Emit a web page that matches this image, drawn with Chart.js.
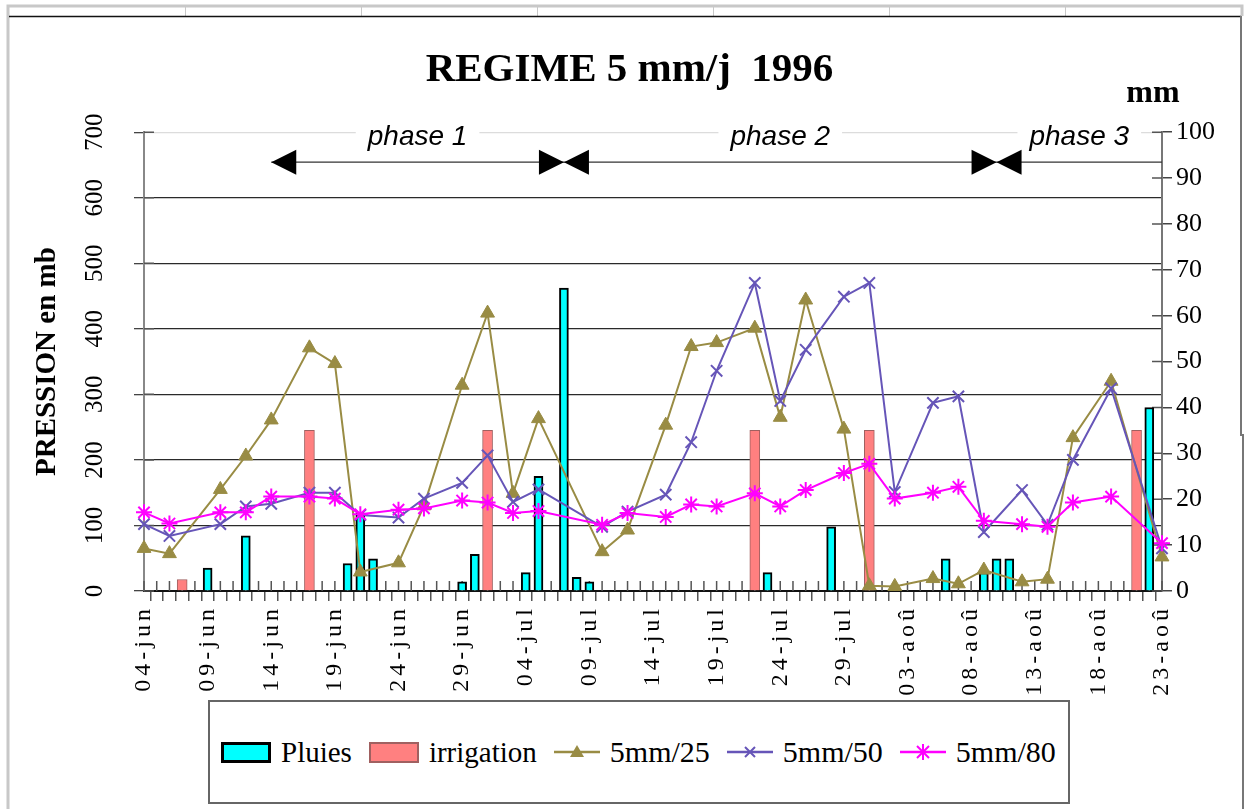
<!DOCTYPE html>
<html lang="fr">
<head>
<meta charset="utf-8">
<title>REGIME 5 mm/j 1996</title>
<script src="https://cdn.jsdelivr.net/npm/chart.js@4.4.1/dist/chart.umd.min.js"></script>
<style>
    html, body { margin: 0; padding: 0; background: #fff; }
    #wrap { position: relative; width: 1245px; height: 809px; overflow: hidden; }
    #graphe { position: absolute; left: 0; top: 0; }
    #legende {
        position: absolute; left: 208px; top: 700px; width: 862px; height: 104px;
        border: 2px solid #666; box-sizing: border-box; background: #fff;
        display: flex; align-items: center; padding-left: 11px;
        font: 29px "Liberation Serif", "Times New Roman", serif; color: #000;
    }
    .item { display: flex; align-items: center; margin-right: 17px; white-space: nowrap; }
    .item .txt { margin-left: 10px; }
    .boite { width: 50px; height: 21px; box-sizing: border-box; }
</style>
</head>
<body>
<div id="wrap">
    <canvas id="graphe" width="1245" height="809"></canvas>
    <div id="legende"></div>
</div>
<script>
// ============================================
// Données
// ============================================

// Catégories : un tick par jour, du 04-jun au 23-aoû
const MOIS = [['jun', 4, 30], ['jul', 1, 31], ['aoû', 1, 23]];
const jours = [];
MOIS.forEach(([m, debut, fin]) => {
    for (let d = debut; d <= fin; d++) jours.push(String(d).padStart(2, '0') + '-' + m);
});

// Pression (mb) - jours de mesure
const datesMesure = [
    '04-jun', '06-jun', '10-jun', '12-jun', '14-jun', '17-jun', '19-jun', '21-jun', '24-jun', '26-jun', '29-jun',
    '01-jul', '03-jul', '05-jul', '10-jul', '12-jul', '15-jul', '17-jul', '19-jul', '22-jul', '24-jul', '26-jul', '29-jul', '31-jul',
    '02-aoû', '05-aoû', '07-aoû', '09-aoû', '12-aoû', '14-aoû', '16-aoû', '19-aoû', '23-aoû'
];
const pression25 = [65, 57, 155, 206, 261, 371, 347, 29, 43, 130, 314, 424, 149, 263, 60, 93, 253, 373, 379, 401, 265, 444, 247, 8, 7, 19, 11, 32, 14, 18, 234, 320, 52];
const pression50 = [102, 84, 102, 129, 133, 150, 150, 116, 112, 141, 165, 207, 136, 155, 98, 121, 147, 227, 336, 470, 290, 368, 449, 470, 151, 287, 297, 90, 154, 101, 200, 309, 65];
const pression80 = [120, 103, 120, 120, 144, 144, 141, 117, 124, 126, 138, 135, 119, 122, 101, 119, 113, 132, 129, 149, 129, 154, 180, 194, 141, 150, 159, 107, 102, 98, 135, 144, 73];

// Apports d'eau (mm)
const datesPluie = ['09-jun', '12-jun', '20-jun', '21-jun', '22-jun', '29-jun', '30-jun', '04-jul', '05-jul', '07-jul', '08-jul', '09-jul',
    '23-jul', '28-jul', '06-aoû', '09-aoû', '10-aoû', '11-aoû', '22-aoû'];
const pluies = [5, 12, 6, 17, 7, 2, 8, 4, 25, 66, 3, 2, 4, 14, 7, 4, 7, 7, 40];
const datesIrrigation = ['07-jun', '17-jun', '01-jul', '22-jul', '31-jul', '21-aoû'];
const irrigation = [2.5, 35, 35, 35, 35, 35];

// Phases de l'essai
const phases = [
    { label: 'phase 1', debut: '14-jun', fin: '07-jul' },
    { label: 'phase 2', debut: '07-jul', fin: '10-aoû' },
    { label: 'phase 3', debut: '10-aoû', fin: null }
];

const serie = (dates, valeurs) => dates.map((d, i) => ({ x: d, y: valeurs[i] }));

const SERIF = '"Liberation Serif", "Times New Roman", serif';
const COULEURS = {
    pluie: '#00ffff',
    irrigation: '#ff8080',
    p25: '#998c44',
    p50: '#6655b8',
    p80: '#ff00ff'
};

// ============================================
// Plugins de décor
// ============================================

// Cadre de la feuille (façon tableur)
const cadre = {
    id: 'cadre',
    beforeDraw(chart) {
        const c = chart.ctx;
        c.save();
        c.fillStyle = '#fff';
        c.fillRect(0, 0, chart.width, chart.height);
        c.strokeStyle = '#c8c8c8';
        c.lineWidth = 3;
        c.beginPath();
        c.moveTo(8, chart.height); c.lineTo(8, 6); c.lineTo(1242, 6); c.lineTo(1242, 16);
        c.stroke();
        c.lineWidth = 1;
        [185, 361, 537, 713, 889, 1065].forEach(x => {
            c.beginPath(); c.moveTo(x + 0.5, 6); c.lineTo(x + 0.5, 16); c.stroke();
        });
        c.strokeStyle = '#111';
        c.lineWidth = 1.5;
        c.beginPath(); c.moveTo(9, 16.5); c.lineTo(1241, 16.5); c.stroke();
        c.strokeStyle = '#777';
        c.lineWidth = 2;
        c.beginPath(); c.moveTo(1241, 16); c.lineTo(1241, 435); c.lineTo(1243, 435); c.lineTo(1243, chart.height); c.stroke();
        c.restore();
    },
    // graduations qui traversent les axes
    beforeDatasetsDraw(chart) {
        const c = chart.ctx;
        const { x, y, y1 } = chart.scales;
        const a = chart.chartArea;
        c.save();
        c.strokeStyle = '#555';
        c.lineWidth = 1.5;
        c.beginPath();
        jours.forEach((_, i) => {
            const px = x.getPixelForValue(i);
            c.moveTo(px, a.bottom - 10); c.lineTo(px, a.bottom);
        });
        y1.ticks.forEach(t => {
            const py = y1.getPixelForValue(t.value);
            c.moveTo(a.right - 10, py); c.lineTo(a.right, py);
        });
        y.ticks.forEach(t => {
            const py = y.getPixelForValue(t.value);
            c.moveTo(a.left, py); c.lineTo(a.left + 10, py);
        });
        c.stroke();
        c.restore();
    }
};

// Flèches des phases + unité "mm"
const annotations = {
    id: 'annotations',
    afterDraw(chart) {
        const c = chart.ctx;
        const x = chart.scales.x;
        const a = chart.chartArea;
        const yFleche = a.top + 30;
        const px = d => x.getPixelForValue(jours.indexOf(d));
        const tete = (pointe, sens) => {
            c.beginPath();
            c.moveTo(pointe, yFleche);
            c.lineTo(pointe - sens * 25, yFleche - 12.5);
            c.lineTo(pointe - sens * 25, yFleche + 12.5);
            c.closePath();
            c.fill();
        };
        c.save();
        c.strokeStyle = '#333';
        c.fillStyle = '#000';
        c.lineWidth = 1.3;
        c.beginPath();
        c.moveTo(px(phases[0].debut), yFleche);
        c.lineTo(a.right, yFleche);
        c.stroke();

        c.font = 'italic 28px "Liberation Sans", Arial, sans-serif';
        c.textAlign = 'center';
        c.textBaseline = 'middle';
        phases.forEach(p => {
            const x0 = px(p.debut);
            const x1 = p.fin ? px(p.fin) : a.right;
            tete(x0, -1);
            if (p.fin) tete(x1, 1);
            const xc = (x0 + x1) / 2;
            const w = c.measureText(p.label).width + 24;
            c.fillStyle = '#fff';
            c.fillRect(xc - w / 2, a.top - 14, w, 26);
            c.fillStyle = '#000';
            c.fillText(p.label, xc, a.top + 5);
        });

        c.font = 'bold 32px ' + SERIF;
        c.fillText('mm', a.right - 9, a.top - 38);
        c.restore();
    }
};

// Espacement des lettres des dates (axe des x)
const espacement = {
    id: 'espacement',
    afterLayout(chart) {
        const sc = chart.scales.x;
        if (sc._espace) return;
        const orig = sc.drawLabels.bind(sc);
        sc.drawLabels = function (area) {
            const c = this.ctx;
            c.save();
            c.letterSpacing = '4px';
            orig(area);
            c.restore();
        };
        sc._espace = true;
    }
};

// ============================================
// Graphique
// ============================================

const datasets = [
    {
        type: 'line', label: '5mm/80', data: serie(datesMesure, pression80), yAxisID: 'y', order: 1,
        borderColor: COULEURS.p80, backgroundColor: COULEURS.p80, borderWidth: 2,
        pointStyle: 'star', pointRadius: 8, pointBorderWidth: 2, clip: false
    },
    {
        type: 'line', label: '5mm/50', data: serie(datesMesure, pression50), yAxisID: 'y', order: 2,
        borderColor: COULEURS.p50, backgroundColor: COULEURS.p50, borderWidth: 2,
        pointStyle: 'crossRot', pointRadius: 8, pointBorderWidth: 2, clip: false
    },
    {
        type: 'line', label: '5mm/25', data: serie(datesMesure, pression25), yAxisID: 'y', order: 3,
        borderColor: COULEURS.p25, backgroundColor: COULEURS.p25, borderWidth: 2,
        pointStyle: 'triangle', pointRadius: 8, pointBorderWidth: 1, clip: false
    },
    {
        type: 'bar', label: 'irrigation', data: serie(datesIrrigation, irrigation), yAxisID: 'y1', order: 4,
        backgroundColor: COULEURS.irrigation, borderColor: '#a06060', borderWidth: 1, barThickness: 10, grouped: false
    },
    {
        type: 'bar', label: 'Pluies', data: serie(datesPluie, pluies), yAxisID: 'y1', order: 5,
        backgroundColor: COULEURS.pluie, borderColor: '#000', borderWidth: 2, barThickness: 9, grouped: false
    }
];

new Chart(document.getElementById('graphe'), {
    type: 'bar',
    data: { labels: jours, datasets: datasets },
    options: {
        responsive: false,
        animation: false,
        devicePixelRatio: 1,
        layout: { padding: { left: 24, right: 10, top: 0, bottom: 0 } },
        plugins: {
            legend: { display: false },
            tooltip: { enabled: false },
            title: {
                display: true,
                text: 'REGIME 5 mm/j  1996',
                color: '#000',
                font: { family: SERIF, size: 41, weight: 'bold' },
                padding: { top: 46, bottom: 37 }
            }
        },
        scales: {
            x: {
                type: 'category',
                offset: false,
                grid: { display: true, drawOnChartArea: false, tickLength: 10, color: '#555', lineWidth: 1.5 },
                border: { color: '#111', width: 2 },
                ticks: {
                    autoSkip: false, minRotation: 90, maxRotation: 90, padding: 4, color: '#000',
                    font: { family: SERIF, size: 24 },
                    callback: function (v, i) { return i % 5 === 0 ? this.getLabelForValue(v) : ''; }
                },
                afterFit: s => { s.height = 218; }
            },
            y: {
                position: 'left',
                min: 0, max: 700,
                grid: {
                    color: ctx => ctx.tick.value === 700 ? '#dcdcdc' : '#2a2a2a',
                    lineWidth: 1.3, tickLength: 10, tickColor: '#444'
                },
                border: { color: '#888', width: 2 },
                ticks: {
                    stepSize: 100, minRotation: 90, maxRotation: 90, crossAlign: 'center', padding: 20,
                    color: '#000', font: { family: SERIF, size: 25 }
                },
                title: {
                    display: true, text: 'PRESSION en mb', color: '#000',
                    font: { family: SERIF, size: 29, weight: 'bold' }, padding: { top: 6, bottom: 0 }
                },
                afterFit: s => { s.width = 120; }
            },
            y1: {
                position: 'right',
                min: 0, max: 100,
                grid: { drawOnChartArea: false, tickLength: 10, color: '#444', lineWidth: 1.5 },
                border: { color: '#777', width: 2 },
                ticks: { stepSize: 10, padding: 4, color: '#000', font: { family: SERIF, size: 26 } },
                afterFit: s => { s.width = 73; }
            }
        }
    },
    plugins: [cadre, annotations, espacement]
});

// ============================================
// Légende (dans un cadre, sous le graphique)
// ============================================

function swatch(ds) {
    if (ds.type === 'bar') {
        return '<div class="boite" style="background:' + ds.backgroundColor + ';border:' +
            (ds.borderWidth + 1) + 'px solid ' + ds.borderColor + '"></div>';
    }
    const col = ds.borderColor;
    let marque = '';
    if (ds.pointStyle === 'triangle') {
        marque = '<polygon points="23,3 30,15 16,15" fill="' + col + '"/>';
    } else if (ds.pointStyle === 'crossRot') {
        marque = '<path d="M18,5 L28,15 M28,5 L18,15" stroke="' + col + '" stroke-width="2"/>';
    } else {
        marque = '<path d="M17,4 L29,16 M29,4 L17,16 M23,2 L23,18" stroke="' + col + '" stroke-width="2"/>';
    }
    return '<svg width="46" height="20"><line x1="0" y1="10" x2="46" y2="10" stroke="' + col +
        '" stroke-width="2.5"/>' + marque + '</svg>';
}

const ordreLegende = ['Pluies', 'irrigation', '5mm/25', '5mm/50', '5mm/80'];
document.getElementById('legende').innerHTML = ordreLegende.map(nom => {
    const ds = datasets.find(d => d.label === nom);
    const taille = nom.startsWith('5mm') ? ' style="font-size:30px"' : '';
    return '<div class="item">' + swatch(ds) + '<span class="txt"' + taille + '>' + nom + '</span></div>';
}).join('');
</script>
</body>
</html>
